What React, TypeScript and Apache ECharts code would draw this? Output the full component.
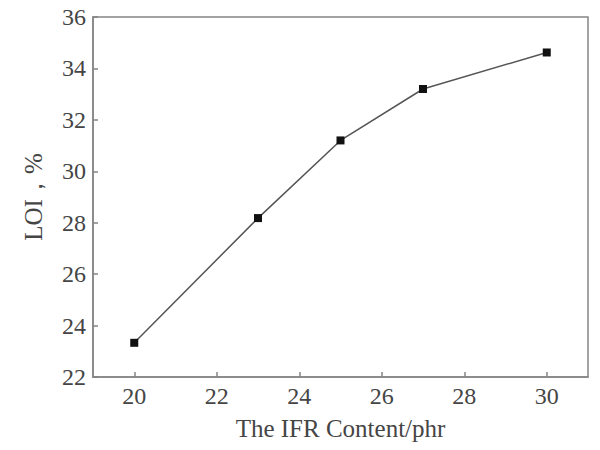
import React, { useEffect, useRef } from "react";
import * as echarts from "echarts";

const ifrContent = [20, 23, 25, 27, 30];
const loiValues = [23.33, 28.18, 31.2, 33.2, 34.62];
const xTicks = [20, 22, 24, 26, 28, 30];
const xTitle = "The IFR Content/phr";
const yTitle = "LOI，%";

export default function App() {
  const ref = useRef<HTMLDivElement>(null);
  useEffect(() => {
    if (!ref.current) return;
    const chart = echarts.init(ref.current, null, { renderer: "svg" });
    const font = "Liberation Serif";
    const textColor = "#454545";
    const axisColor = "#858585";
    chart.setOption({
      animation: false,
      backgroundColor: "#ffffff",
      grid: {
        left: 93,
        right: 12,
        top: 17,
        bottom: 73,
        show: true,
        borderColor: axisColor,
        borderWidth: 1.5,
      },
      xAxis: {
        type: "value",
        min: 19,
        max: 31,
        name: xTitle,
        nameLocation: "middle",
        nameGap: 39,
        nameTextStyle: { fontFamily: font, fontSize: 25, color: textColor },
        axisLine: { onZero: false, lineStyle: { color: axisColor, width: 1.5 } },
        axisTick: {
          inside: true,
          length: 5,
          customValues: xTicks,
          lineStyle: { color: axisColor, width: 1.5 },
        },
        axisLabel: {
          customValues: xTicks,
          fontFamily: font,
          fontSize: 24,
          color: textColor,
          margin: 7,
        },
        splitLine: { show: false },
      },
      yAxis: {
        type: "value",
        min: 22,
        max: 36,
        interval: 2,
        name: yTitle,
        nameLocation: "middle",
        nameGap: 47,
        nameRotate: 90,
        nameTextStyle: { fontFamily: font, fontSize: 25, color: textColor },
        axisLine: { onZero: false, lineStyle: { color: axisColor, width: 1.5 } },
        axisTick: { inside: true, length: 5, lineStyle: { color: axisColor, width: 1.5 } },
        axisLabel: { fontFamily: font, fontSize: 24, color: textColor, margin: 7 },
        splitLine: { show: false },
      },
      series: [
        {
          type: "line",
          data: ifrContent.map((x, i) => [x, loiValues[i]]),
          symbol: "rect",
          symbolSize: 8,
          itemStyle: { color: "#111111" },
          lineStyle: { color: "#555555", width: 1.5 },
        },
      ],
    });
    return () => chart.dispose();
  }, []);
  return <div ref={ref} style={{ width: 600, height: 450, margin: -8 }} />;
}
